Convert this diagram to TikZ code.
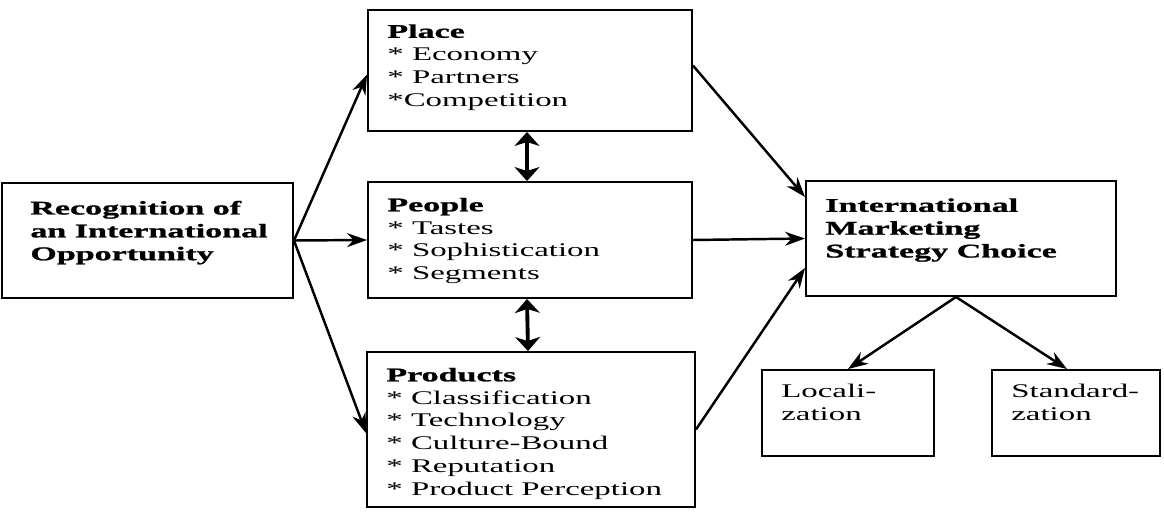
\documentclass[tikz,border=0pt]{standalone}
\usepackage{fontspec}
\setmainfont{Liberation Serif}[FakeStretch=1.7, BoldFeatures={FakeStretch=1.76, FakeBold=1.2}]
\usetikzlibrary{arrows.meta}

\tikzset{
  box/.style={draw, line width=1.1pt, inner sep=0pt},
  txt/.style={anchor=north west, align=left, inner xsep=0.4cm, inner ysep=0.33cm,
    font=\fontsize{11}{13}\selectfont},
  arr/.style={line width=1.4pt, -{Stealth[length=4mm,width=2.8mm,inset=1.3mm]}},
  dbl/.style={line width=2.2pt, {Stealth[length=2.8mm,width=5mm,inset=0.8mm]}-{Stealth[length=2.8mm,width=5mm,inset=0.8mm]}}
}

\begin{document}
\begin{tikzpicture}
\useasboundingbox (0,0) rectangle (23.28,10.24);

\node[box, minimum width=5.82cm, minimum height=2.30cm] (recog) at (2.95,5.43) {};
\node[box, minimum width=6.48cm, minimum height=2.42cm] (place) at (10.6,8.83) {};
\node[box, minimum width=6.48cm, minimum height=2.32cm] (people) at (10.6,5.44) {};
\node[box, minimum width=6.56cm, minimum height=3.10cm] (products) at (10.62,1.65) {};
\node[box, minimum width=6.2cm, minimum height=2.3cm] (imsc) at (19.22,5.47) {};
\node[box, minimum width=3.44cm, minimum height=1.72cm] (local) at (16.96,1.98) {};
\node[box, minimum width=3.36cm, minimum height=1.72cm] (stand) at (21.52,1.98) {};

\node[txt, inner xsep=0.58cm, inner ysep=0.37cm] (recogtxt) at (recog.north west)
  {\textbf{Recognition of}\\ \textbf{an International}\\ \textbf{Opportunity}};
\node[txt, inner ysep=0.3cm] (placetxt) at (place.north west)
  {\textbf{Place}\\ * Economy\\ * Partners\\ *Competition};
\node[txt] (peopletxt) at (people.north west)
  {\textbf{People}\\ * Tastes\\ * Sophistication\\ * Segments};
\node[txt] (productstxt) at (products.north west)
  {\textbf{Products}\\ * Classification\\ * Technology\\ * Culture-Bound\\ * Reputation\\ * Product Perception};
\node[txt, inner ysep=0.36cm] (imsctxt) at (imsc.north west)
  {\textbf{International}\\ \textbf{Marketing}\\ \textbf{Strategy Choice}};
\node[txt, inner ysep=0.3cm] (localtxt) at (local.north west) {Locali-\\ zation};
\node[txt, inner ysep=0.3cm] (standtxt) at (stand.north west) {Standard-\\ zation};

\draw[arr] (recog.east) -- ([yshift=-0.08cm]place.west);
\draw[arr] (recog.east) -- (people.west);
\draw[arr] (recog.east) -- ([yshift=-0.07cm]products.west);
\draw[dbl] ([xshift=-0.06cm]place.south) -- ([xshift=-0.06cm]people.north);
\draw[dbl] ([xshift=-0.06cm]people.south) -- ([xshift=-0.06cm]products.north);
\draw[arr] ([yshift=0.1cm]place.east) -- ([yshift=0.83cm]imsc.west);
\draw[arr] (people.east) -- (imsc.west);
\draw[arr] (products.east) -- ([yshift=-0.59cm]imsc.west);
\draw[arr] ([xshift=-0.1cm]imsc.south) -- (local.north);
\draw[arr] ([xshift=-0.1cm]imsc.south) -- ([xshift=-0.18cm]stand.north);
\end{tikzpicture}
\end{document}
